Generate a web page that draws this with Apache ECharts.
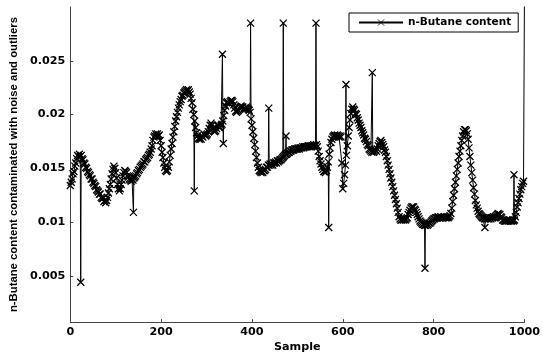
<!DOCTYPE html>
<html>
<head>
<meta charset="utf-8">
<script src="https://cdn.jsdelivr.net/npm/echarts@6/dist/echarts.min.js"></script>
<style>
  html, body { margin: 0; padding: 0; background: #fff; }
  #main { width: 543px; height: 358px; }
</style>
</head>
<body>
<div id="main"></div>
<script>
// n-Butane content read every 2 samples (0..998)
var step = 2;
var butane = [
  0.0134, 0.0137, 0.0140, 0.0145, 0.0147, 0.0152, 0.0155, 0.0159, 0.0162, 0.0161,
  0.0163, 0.0161, 0.0162, 0.0159, 0.0158, 0.0155, 0.0154, 0.0151, 0.0150, 0.0147,
  0.0146, 0.0144, 0.0143, 0.0140, 0.0140, 0.0137, 0.0136, 0.0134, 0.0133, 0.0130,
  0.0129, 0.0128, 0.0126, 0.0126, 0.0123, 0.0122, 0.0122, 0.0119, 0.0120, 0.0118,
  0.0120, 0.0123, 0.0127, 0.0131, 0.0135, 0.0140, 0.0145, 0.0149, 0.0152, 0.0150,
  0.0146, 0.0141, 0.0135, 0.0131, 0.0129, 0.0131, 0.0135, 0.0139, 0.0143, 0.0146,
  0.0148, 0.0147, 0.0146, 0.0143, 0.0142, 0.0140, 0.0139, 0.0138, 0.0140, 0.0139,
  0.0141, 0.0142, 0.0143, 0.0145, 0.0146, 0.0148, 0.0149, 0.0151, 0.0152, 0.0153,
  0.0154, 0.0156, 0.0156, 0.0158, 0.0159, 0.0160, 0.0162, 0.0163, 0.0165, 0.0168,
  0.0171, 0.0176, 0.0179, 0.0180, 0.0182, 0.0180, 0.0182, 0.0180, 0.0181, 0.0176,
  0.0171, 0.0165, 0.0160, 0.0155, 0.0151, 0.0148, 0.0147, 0.0148, 0.0151, 0.0156,
  0.0162, 0.0168, 0.0173, 0.0179, 0.0184, 0.0189, 0.0194, 0.0198, 0.0202, 0.0206,
  0.0209, 0.0212, 0.0214, 0.0217, 0.0218, 0.0220, 0.0221, 0.0222, 0.0223, 0.0222,
  0.0223, 0.0221, 0.0219, 0.0215, 0.0211, 0.0205, 0.0200, 0.0194, 0.0188, 0.0183,
  0.0180, 0.0178, 0.0177, 0.0178, 0.0177, 0.0180, 0.0179, 0.0182, 0.0181, 0.0180,
  0.0181, 0.0182, 0.0184, 0.0187, 0.0190, 0.0192, 0.0190, 0.0187, 0.0185, 0.0184,
  0.0185, 0.0187, 0.0190, 0.0190, 0.0188, 0.0188, 0.0190, 0.0191, 0.0194, 0.0199,
  0.0204, 0.0208, 0.0211, 0.0212, 0.0211, 0.0210, 0.0212, 0.0213, 0.0213, 0.0212,
  0.0209, 0.0206, 0.0203, 0.0202, 0.0203, 0.0204, 0.0206, 0.0207, 0.0208, 0.0207,
  0.0207, 0.0205, 0.0206, 0.0205, 0.0207, 0.0206, 0.0205, 0.0204, 0.0202, 0.0196,
  0.0190, 0.0184, 0.0178, 0.0172, 0.0166, 0.0160, 0.0155, 0.0151, 0.0148, 0.0147,
  0.0146, 0.0147, 0.0146, 0.0148, 0.0148, 0.0149, 0.0151, 0.0151, 0.0153, 0.0153,
  0.0154, 0.0153, 0.0154, 0.0153, 0.0155, 0.0155, 0.0156, 0.0155, 0.0157, 0.0156,
  0.0157, 0.0158, 0.0158, 0.0159, 0.0160, 0.0161, 0.0162, 0.0163, 0.0163, 0.0164,
  0.0165, 0.0165, 0.0166, 0.0166, 0.0167, 0.0167, 0.0167, 0.0168, 0.0168, 0.0168,
  0.0168, 0.0169, 0.0168, 0.0169, 0.0169, 0.0169, 0.0170, 0.0169, 0.0170, 0.0170,
  0.0170, 0.0170, 0.0171, 0.0170, 0.0171, 0.0170, 0.0171, 0.0171, 0.0172, 0.0171,
  0.0171, 0.0172, 0.0170, 0.0166, 0.0161, 0.0157, 0.0154, 0.0151, 0.0149, 0.0147,
  0.0147, 0.0146, 0.0148, 0.0151, 0.0156, 0.0163, 0.0169, 0.0174, 0.0177, 0.0179,
  0.0180, 0.0181, 0.0180, 0.0180, 0.0181, 0.0180, 0.0179, 0.0180, 0.0179, 0.0155,
  0.0131, 0.0136, 0.0144, 0.0153, 0.0162, 0.0171, 0.0180, 0.0188, 0.0195, 0.0201,
  0.0205, 0.0207, 0.0205, 0.0204, 0.0201, 0.0200, 0.0197, 0.0195, 0.0192, 0.0190,
  0.0188, 0.0185, 0.0183, 0.0181, 0.0178, 0.0177, 0.0175, 0.0172, 0.0171, 0.0168,
  0.0167, 0.0166, 0.0165, 0.0166, 0.0165, 0.0166, 0.0167, 0.0166, 0.0168, 0.0171,
  0.0173, 0.0175, 0.0176, 0.0174, 0.0172, 0.0170, 0.0167, 0.0165, 0.0161, 0.0157,
  0.0153, 0.0149, 0.0145, 0.0141, 0.0137, 0.0133, 0.0129, 0.0125, 0.0121, 0.0117,
  0.0113, 0.0109, 0.0105, 0.0103, 0.0102, 0.0102, 0.0103, 0.0102, 0.0103, 0.0102,
  0.0103, 0.0104, 0.0107, 0.0109, 0.0111, 0.0113, 0.0114, 0.0114, 0.0114, 0.0112,
  0.0111, 0.0109, 0.0107, 0.0105, 0.0103, 0.0101, 0.0100, 0.0099, 0.0098, 0.0098,
  0.0097, 0.0097, 0.0098, 0.0097, 0.0098, 0.0099, 0.0099, 0.0100, 0.0101, 0.0102,
  0.0103, 0.0103, 0.0104, 0.0104, 0.0104, 0.0105, 0.0104, 0.0104, 0.0105, 0.0104,
  0.0104, 0.0104, 0.0105, 0.0104, 0.0104, 0.0105, 0.0104, 0.0105, 0.0106, 0.0108,
  0.0113, 0.0119, 0.0125, 0.0131, 0.0137, 0.0143, 0.0149, 0.0155, 0.0161, 0.0166,
  0.0171, 0.0176, 0.0180, 0.0184, 0.0186, 0.0186, 0.0185, 0.0182, 0.0177, 0.0169,
  0.0161, 0.0153, 0.0146, 0.0139, 0.0132, 0.0126, 0.0120, 0.0116, 0.0113, 0.0110,
  0.0108, 0.0107, 0.0106, 0.0105, 0.0104, 0.0104, 0.0103, 0.0103, 0.0104, 0.0103,
  0.0103, 0.0103, 0.0104, 0.0103, 0.0104, 0.0104, 0.0105, 0.0104, 0.0105, 0.0106,
  0.0107, 0.0108, 0.0107, 0.0107, 0.0105, 0.0104, 0.0102, 0.0102, 0.0101, 0.0101,
  0.0101, 0.0102, 0.0101, 0.0101, 0.0102, 0.0101, 0.0101, 0.0102, 0.0101, 0.0102,
  0.0105, 0.0109, 0.0114, 0.0118, 0.0122, 0.0126, 0.0130, 0.0133, 0.0136, 0.0138
];

// outlier samples [sample, value]
var outlierX = [23, 139, 273, 335, 337, 397, 437, 469, 475, 541, 569, 607, 665, 781, 913, 977, 1000];
var outlierY = [0.0044, 0.0109, 0.0129, 0.0256, 0.0173, 0.0285, 0.0206, 0.0285, 0.0180, 0.0285,
                0.0095, 0.0228, 0.0239, 0.0057, 0.0095, 0.0144, 0.0305];

var yTicks = [0.005, 0.01, 0.015, 0.02, 0.025];

var points = [];
for (var i = 0; i < butane.length; i++) {
  points.push([i * step, butane[i]]);
}
for (var j = 0; j < outlierX.length; j++) {
  points.push([outlierX[j], outlierY[j]]);
}
points.sort(function (a, b) { return a[0] - b[0]; });

var labelFont = { color: '#000', fontFamily: 'DejaVu Sans', fontWeight: 'bold', fontSize: 11.2 };
var xMark = 'path://M0,0L10,10M10,0L0,10';

var myChart = echarts.init(document.getElementById('main'));
var option = {
  animation: false,
  backgroundColor: '#fff',
  grid: { left: 70, right: 17, top: 7, bottom: 34.5 },
  legend: {
    left: 349,
    top: 13,
    padding: [4, 7, 4, 9],
    itemWidth: 44,
    itemHeight: 8,
    backgroundColor: '#fff',
    borderColor: '#000',
    borderWidth: 1,
    borderRadius: 0,
    textStyle: { color: '#000', fontFamily: 'DejaVu Sans', fontWeight: 'bold', fontSize: 10.5 },
    itemStyle: { borderWidth: 0.8 },
    data: ['n-Butane content']
  },
  xAxis: {
    type: 'value',
    min: 0,
    max: 1000,
    interval: 200,
    name: 'Sample',
    nameLocation: 'middle',
    nameGap: 18,
    nameTextStyle: labelFont,
    axisLine: { lineStyle: { color: '#444', width: 1 } },
    axisTick: { inside: true, length: 3, lineStyle: { color: '#444' } },
    axisLabel: Object.assign({
      margin: 4,
      formatter: function (v) { return String(v); }
    }, labelFont),
    splitLine: { show: false }
  },
  yAxis: {
    type: 'value',
    min: 0.0007,
    max: 0.030,
    name: 'n-Butane content contaminated with noise and outliers',
    nameLocation: 'middle',
    nameGap: 49,
    nameTextStyle: { color: '#000', fontFamily: 'Liberation Sans', fontWeight: 'bold', fontSize: 11.3 },
    axisLine: { show: true, lineStyle: { color: '#444', width: 1 } },
    axisTick: { show: true, inside: true, length: 3, customValues: yTicks, lineStyle: { color: '#444' } },
    axisLabel: Object.assign({ margin: 5, customValues: yTicks }, labelFont),
    splitLine: { show: false }
  },
  series: [{
    name: 'n-Butane content',
    type: 'line',
    data: points,
    showAllSymbol: true,
    symbol: xMark,
    symbolSize: 7,
    clip: true,
    lineStyle: { color: '#000', width: 1 },
    itemStyle: { color: '#000', borderColor: '#000', borderWidth: 1.3 }
  }]
};
myChart.setOption(option);
</script>
</body>
</html>
